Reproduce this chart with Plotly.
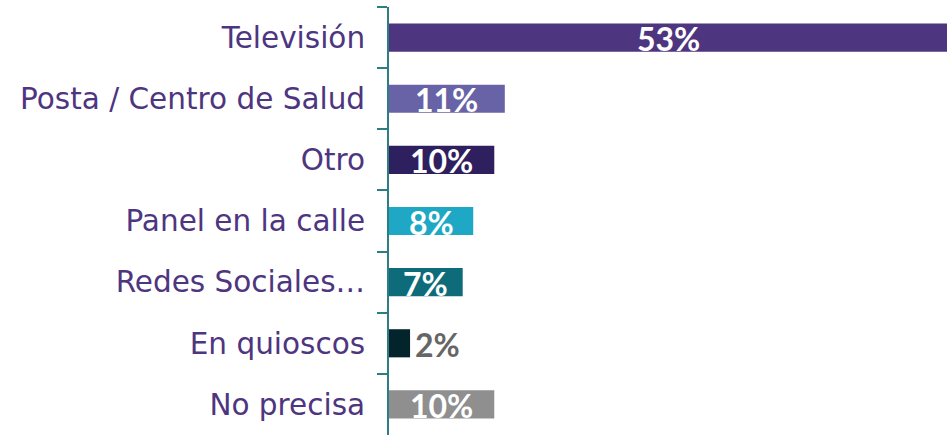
import plotly.graph_objects as go

# Media channels and share of responses (%)
categories = ["Televisión", "Posta / Centro de Salud", "Otro", "Panel en la calle",
              "Redes Sociales…", "En quioscos", "No precisa"]
values = [53, 11, 10, 8, 7, 2, 10]
bar_colors = ["#4E357F", "#6763A6", "#2E1F5E", "#1EA8C6", "#0E6B7A", "#03242A", "#8F8F8F"]
# Labels that do not fit in their bar are written just past its end
outside = [False, False, False, False, False, True, False]

fig = go.Figure(go.Bar(
    x=values,
    y=categories,
    orientation="h",
    marker=dict(color=bar_colors, line=dict(width=0)),
    width=0.46,
    hoverinfo="skip",
))

label_font = dict(family="Lato", size=32, weight="bold")
for cat, val, out in zip(categories, values, outside):
    if out:
        fig.add_annotation(
            x=val, y=cat, text=f"{val}%", showarrow=False,
            xanchor="left", yanchor="middle", xshift=3, yshift=-1,
            font=dict(color="#666666", **label_font),
        )
    else:
        fig.add_annotation(
            x=val / 2, y=cat, text=f"{val}%", showarrow=False,
            xanchor="center", yanchor="middle", yshift=-1,
            font=dict(color="#FFFFFF", **label_font),
        )

fig.update_layout(
    width=947, height=435,
    margin=dict(l=389, r=0, t=7, b=0),
    paper_bgcolor="white", plot_bgcolor="white",
    showlegend=False,
    xaxis=dict(range=[0, 53], visible=False, fixedrange=True),
    yaxis=dict(
        autorange="reversed",
        showline=True, linecolor="#2E7D84", linewidth=2,
        ticks="outside", tickson="boundaries", ticklen=10,
        tickcolor="#2E7D84", tickwidth=2,
        ticklabelstandoff=16,
        tickfont=dict(family="DejaVu Sans", size=29.5, color="#4E357F"),
        showgrid=False,
    ),
)

fig.write_html("out.html")
